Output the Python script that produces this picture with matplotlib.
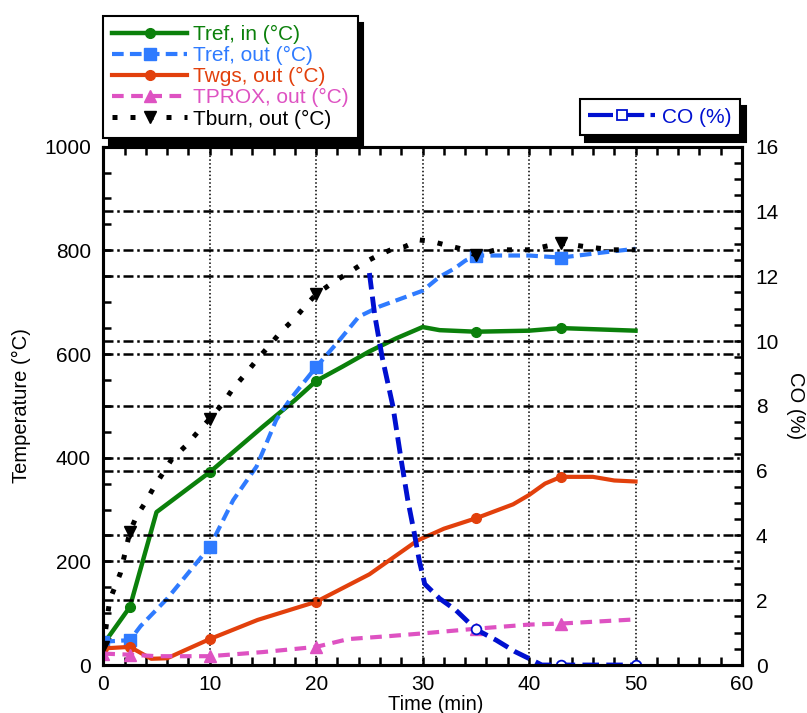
import matplotlib
matplotlib.use('Agg')
import matplotlib.pyplot as plt
from matplotlib.lines import Line2D
from matplotlib.ticker import MultipleLocator

plt.rcParams['font.family'] = ['Liberation Sans', 'DejaVu Sans']

# values
t_ref_in = [0, 2.5, 5, 10, 15, 18, 20, 22.5, 25, 27.5, 30, 31.6, 35, 40, 43, 50]
T_ref_in = [40, 112, 295, 372, 460, 511, 548, 576, 605, 630, 652, 646, 643, 645, 650, 645]
mk_ref_in = [0, 2.5, 10, 20, 35, 43]

t_ref_out = [0, 2.5, 3.5, 6, 10, 12.2, 14.4, 16.25, 17.5, 20, 22.2, 24, 26, 28, 30,
             31.6, 33, 34, 35, 40, 43, 47, 50]
T_ref_out = [45, 48, 75, 128, 228, 318, 383, 473, 511, 575, 627, 672, 692, 707, 722,
             749, 765, 780, 790, 790, 786, 796, 803]
mk_ref_out = [0, 2.5, 10, 20, 35, 43]

t_wgs = [0, 2.5, 4.5, 6, 7.5, 10, 14.5, 20, 25, 29.5, 32, 35, 38.5, 40, 41.5, 43, 46, 48, 50]
T_wgs = [32, 35, 12, 13, 27, 50, 87, 122, 175, 240, 263, 283, 310, 328, 350, 363, 363, 356, 354]
mk_wgs = [0, 2.5, 10, 20, 35, 43]

t_prox = [0, 2.5, 5, 10, 15, 20, 23, 27, 30, 35, 40, 43, 50]
T_prox = [22, 20, 17, 17, 25, 35, 50, 56, 61, 70, 78, 80, 88]
mk_prox = [0, 2.5, 10, 20, 35, 43]

t_burn = [0, 0.6, 1.6, 2.5, 3.1, 3.9, 4.7, 5.5, 6.4, 7.8, 8.9, 10, 11.25, 12.2, 13.3,
          14.4, 15.5, 16.7, 18, 19.2, 20, 21.7, 23, 24.4, 25.6, 27, 28.3, 29.7, 30.9,
          32.2, 33.4, 35, 36.9, 40, 43, 45.3, 47.8, 50]
T_burn = [35, 125, 177, 257, 286, 312, 341, 367, 396, 424, 450, 475, 505, 534, 560,
          588, 614, 643, 669, 698, 715, 740, 756, 775, 788, 801, 807, 820, 817,
          810, 804, 791, 801, 801, 814, 807, 801, 801]
mk_burn = [0, 2.5, 10, 20, 35, 43]

t_co = [25, 25.5, 26.2, 27.2, 28, 28.6, 29.2, 29.7, 30.2, 31.6, 33.1, 35, 36.9, 38.7,
        40, 41.2, 43, 50]
co = [12.1, 10.8, 9.5, 8.0, 6.3, 5.1, 4.1, 3.2, 2.5, 2.05, 1.7, 1.1, 0.77, 0.41,
      0.2, 0.0, 0.0, 0.0]
mk_co = [35, 43, 50]

GREEN = '#0b800b'
LBLUE = '#2f7bff'
ORANGE = '#e2400c'
PINK = '#de52c2'
DBLUE = '#0010d0'


def marks(t, mt):
    return [t.index(v) for v in mt]


fig = plt.figure(figsize=(8.07, 7.13), dpi=100)
ax = fig.add_axes([0.128, 0.0673, 0.7914, 0.727])
ax2 = ax.twinx()

l1, = ax.plot(t_ref_in, T_ref_in, color=GREEN, lw=3.2, marker='o', ms=7,
              markevery=marks(t_ref_in, mk_ref_in), label='Tref, in (°C)')
l2, = ax.plot(t_ref_out, T_ref_out, color=LBLUE, lw=3, ls=(0, (2.8, 1.5)), marker='s', ms=8,
              markevery=marks(t_ref_out, mk_ref_out), label='Tref, out (°C)')
l3, = ax.plot(t_wgs, T_wgs, color=ORANGE, lw=3, marker='o', ms=7,
              markevery=marks(t_wgs, mk_wgs), label='Twgs, out (°C)')
l4, = ax.plot(t_prox, T_prox, color=PINK, lw=3, ls=(0, (2.8, 1.8)), marker='^', ms=8,
              markevery=marks(t_prox, mk_prox), label='TPROX, out (°C)')
l5, = ax.plot(t_burn, T_burn, color='black', lw=3.6, ls=(0, (1, 2.6)), marker='v', ms=9,
              markevery=marks(t_burn, mk_burn), label='Tburn, out (°C)')
ax2.plot(t_co, co, color=DBLUE, lw=3.5, ls=(0, (3.4, 1.5)), marker='o', ms=7,
         mfc='white', mew=1.3, markevery=marks(t_co, mk_co))

ax.set_xlim(0, 60)
ax.set_ylim(0, 1000)
ax2.set_ylim(0, 16)

ax.xaxis.set_major_locator(MultipleLocator(10))
ax.xaxis.set_minor_locator(MultipleLocator(2))
ax.yaxis.set_major_locator(MultipleLocator(200))
ax.yaxis.set_minor_locator(MultipleLocator(50))
ax2.yaxis.set_major_locator(MultipleLocator(2))
ax2.yaxis.set_minor_locator(MultipleLocator(0.5))

ax.tick_params(which='both', direction='in', top=True, right=False, width=1.8, length=5.5)
ax.tick_params(axis='x', labelsize=15, pad=7)
ax.tick_params(axis='y', labelsize=15, pad=9)
ax2.tick_params(which='both', direction='in', right=True, width=1.8, length=5.5,
                labelsize=15, pad=10)

ax.grid(axis='x', which='major', color='black', ls=(0, (1, 1.5)), lw=1.1)
ax.grid(axis='y', which='major', color='black', ls=(0, (4, 1.5, 1, 1.5)), lw=1.8)
ax2.grid(axis='y', which='major', color='black', ls=(0, (4, 1.5, 1, 1.5)), lw=1.8)

for a in (ax, ax2):
    for s in a.spines.values():
        s.set_linewidth(2.2)

ax.set_ylabel('Temperature (°C)', fontsize=14.5, labelpad=9)
ax.set_xlabel('Time (min)', fontsize=14.5)
ax.xaxis.set_label_coords(0.52, -0.058)
ax2.set_ylabel('CO (%)', fontsize=14.5, rotation=270, va='bottom', labelpad=5)

shadow = {'color': 'black', 'alpha': 1, 'ox': 4, 'oy': -5}
leg1 = fig.legend(handles=[l1, l2, l3, l4, l5], loc='lower left',
                  bbox_to_anchor=(103 / 807, 1 - 138 / 713), bbox_transform=fig.transFigure,
                  fontsize=15, labelcolor='linecolor', frameon=True, fancybox=False,
                  framealpha=1, shadow=shadow, borderaxespad=0, borderpad=0.45,
                  labelspacing=0.1, handlelength=3.6, handletextpad=0.25)
leg1.get_frame().set_edgecolor('black')
leg1.get_frame().set_linewidth(1.5)

co_handle = Line2D([], [], color=DBLUE, lw=3, ls=(0, (6, 1.5)), marker='s', ms=7,
                   mfc='white', mew=1.3)
leg2 = fig.legend(handles=[co_handle], labels=['CO (%)'], loc='lower right',
                  bbox_to_anchor=(740 / 807, 1 - 135 / 713), bbox_transform=fig.transFigure,
                  fontsize=15, labelcolor=DBLUE, frameon=True, fancybox=False,
                  framealpha=1, shadow=shadow, borderaxespad=0, borderpad=0.4,
                  handlelength=3.2, handletextpad=0.35)
leg2.get_frame().set_edgecolor('black')
leg2.get_frame().set_linewidth(1.5)

fig.savefig('out.png', dpi=100)
